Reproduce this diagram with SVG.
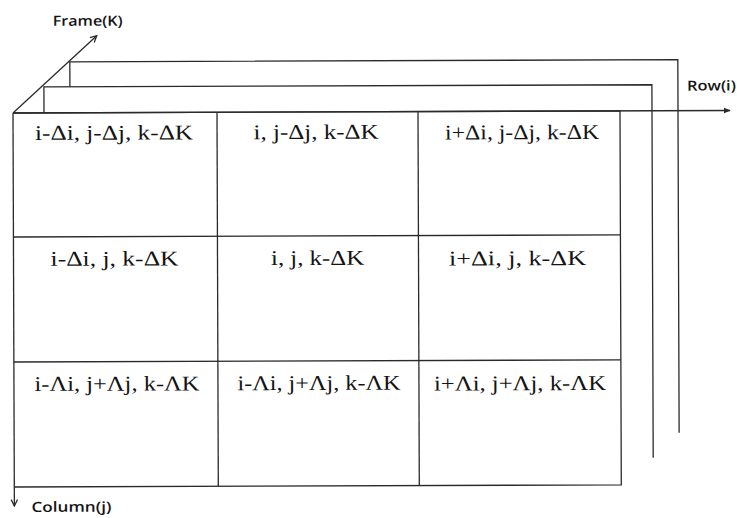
<svg xmlns="http://www.w3.org/2000/svg" width="737" height="518" viewBox="0 0 737 518">
  <style>
    .ln { stroke: #2a2a2a; stroke-width: 1.3; fill: none; }
    .cell { font-family: "Liberation Serif", "Times New Roman", serif; font-size: 21px; fill: #141414; text-anchor: middle; }
    .axis { font-family: "Open Sans", "Liberation Sans", sans-serif; font-size: 14px; font-weight: 600; fill: #141414; }
  </style>
  <defs>
    <marker id="head" viewBox="0 0 10 10" refX="9" refY="5" markerWidth="7" markerHeight="7" orient="auto" markerUnits="userSpaceOnUse">
      <path d="M0,1 L10,5 L0,9 z" fill="#2a2a2a"/>
    </marker>
    <marker id="vhead" viewBox="0 0 10 10" refX="9" refY="5" markerWidth="8" markerHeight="8" orient="auto" markerUnits="userSpaceOnUse">
      <path d="M1,1 L9,5 L1,9" fill="none" stroke="#2a2a2a" stroke-width="1.6"/>
    </marker>
  </defs>
  <rect width="737" height="518" fill="#ffffff"/>
  <g transform="rotate(-0.2 13 113)">
    <!-- stacked frames behind the current one -->
    <g id="frame-back">
      <polyline class="ln" points="70,87 70,62 678,62 678,435"/>
    </g>
    <g id="frame-middle">
      <polyline class="ln" points="44,113 44,87 652,87 652,460"/>
    </g>
    <!-- current frame: 3x3 neighbourhood grid -->
    <g id="frame-front">
      <polyline class="ln" points="13,113 620,113 620,487 13,487"/>
      <line class="ln" x1="217" y1="113" x2="217" y2="487"/>
      <line class="ln" x1="418" y1="113" x2="418" y2="487"/>
      <line class="ln" x1="13" y1="237" x2="620" y2="237"/>
      <line class="ln" x1="13" y1="362" x2="620" y2="362"/>
    </g>
    <g id="cell-r1c1"><text class="cell" x="114" y="140" textLength="158" lengthAdjust="spacingAndGlyphs">i-Δi, j-Δj, k-ΔK</text></g>
    <g id="cell-r1c2"><text class="cell" x="316" y="140" textLength="125" lengthAdjust="spacingAndGlyphs">i, j-Δj, k-ΔK</text></g>
    <g id="cell-r1c3"><text class="cell" x="522" y="141" textLength="154" lengthAdjust="spacingAndGlyphs">i+Δi, j-Δj, k-ΔK</text></g>
    <g id="cell-r2c1"><text class="cell" x="114" y="266" textLength="128" lengthAdjust="spacingAndGlyphs">i-Δi, j, k-ΔK</text></g>
    <g id="cell-r2c2"><text class="cell" x="317" y="266" textLength="93" lengthAdjust="spacingAndGlyphs">i, j, k-ΔK</text></g>
    <g id="cell-r2c3"><text class="cell" x="517" y="267" textLength="137" lengthAdjust="spacingAndGlyphs">i+Δi, j, k-ΔK</text></g>
    <g id="cell-r3c1"><text class="cell" x="116" y="391" textLength="165" lengthAdjust="spacingAndGlyphs">i-Λi, j+Λj, k-ΛK</text></g>
    <g id="cell-r3c2"><text class="cell" x="318" y="391" textLength="163" lengthAdjust="spacingAndGlyphs">i-Λi, j+Λj, k-ΛK</text></g>
    <g id="cell-r3c3"><text class="cell" x="519" y="392" textLength="172" lengthAdjust="spacingAndGlyphs">i+Λi, j+Λj, k-ΛK</text></g>
    <!-- axes -->
    <g id="connectors">
      <line class="ln" x1="13" y1="113" x2="730" y2="113" marker-end="url(#head)"/>
      <line class="ln" x1="13" y1="113" x2="13" y2="506" marker-end="url(#vhead)"/>
      <line class="ln" x1="13" y1="113" x2="97" y2="36" marker-end="url(#vhead)"/>
    </g>
    <g id="axis-labels">
      <text class="axis" x="53" y="26" textLength="70" lengthAdjust="spacingAndGlyphs">Frame(K)</text>
      <text class="axis" x="687" y="93" font-size="13" textLength="49" lengthAdjust="spacingAndGlyphs">Row(i)</text>
      <text class="axis" x="30" y="512" textLength="80" lengthAdjust="spacingAndGlyphs">Column(j)</text>
    </g>
  </g>
</svg>
